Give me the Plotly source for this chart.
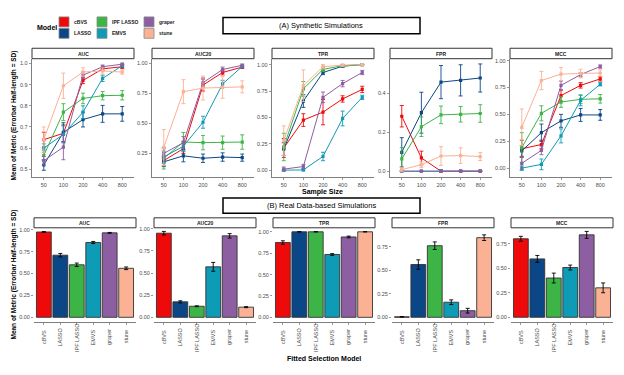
import plotly.graph_objects as go

W, H = 624, 375
FONT = "Liberation Sans, Arial, sans-serif"

models = ["cBVS", "LASSO", "IPF LASSO", "EMVS", "graper", "stune"]
colors = ["#EE0A0A", "#0B4786", "#3DB446", "#0E9BB5", "#8E5EA2", "#FBB194"]
sizes = ["50", "100", "200", "400", "800"]
metrics = ["AUC", "AUC20", "TPR", "FPR", "MCC"]

# ---- (A) Synthetic simulations: rows follow `models`, columns follow `sizes`
syn_auc_mean = [[0.64, 0.67, 0.92, 0.975, 0.985],
                [0.52, 0.675, 0.735, 0.762, 0.762],
                [0.565, 0.77, 0.835, 0.848, 0.85],
                [0.60, 0.665, 0.77, 0.93, 0.99],
                [0.54, 0.605, 0.945, 0.985, 0.997],
                [0.64, 0.895, 0.96, 0.965, 0.96]]
syn_auc_sd = [[0.035, 0.04, 0.015, 0.008, 0.008],
              [0.025, 0.045, 0.035, 0.04, 0.035],
              [0.025, 0.04, 0.025, 0.02, 0.022],
              [0.02, 0.04, 0.03, 0.015, 0.005],
              [0.02, 0.06, 0.015, 0.008, 0.004],
              [0.06, 0.06, 0.02, 0.015, 0.01]]

syn_auc20_mean = [[0.19, 0.29, 0.82, 0.925, 0.97],
                  [0.18, 0.23, 0.21, 0.22, 0.215],
                  [0.21, 0.345, 0.34, 0.34, 0.345],
                  [0.22, 0.31, 0.51, 0.83, 0.975],
                  [0.25, 0.34, 0.84, 0.95, 0.985],
                  [0.30, 0.765, 0.795, 0.80, 0.805]]
syn_auc20_sd = [[0.04, 0.04, 0.05, 0.02, 0.01],
                [0.04, 0.05, 0.035, 0.035, 0.03],
                [0.09, 0.08, 0.06, 0.055, 0.06],
                [0.05, 0.04, 0.05, 0.03, 0.01],
                [0.04, 0.05, 0.04, 0.02, 0.01],
                [0.15, 0.10, 0.10, 0.09, 0.05]]

syn_tpr_mean = [[0.21, 0.475, 0.55, 0.675, 0.765],
                [0.20, 0.655, 0.925, 0.985, 1.0],
                [0.22, 0.77, 0.955, 0.99, 1.0],
                [0.0, 0.003, 0.13, 0.49, 0.69],
                [0.01, 0.035, 0.69, 0.82, 0.925],
                [0.28, 0.80, 0.98, 0.995, 1.0]]
syn_tpr_sd = [[0.09, 0.06, 0.12, 0.03, 0.03],
              [0.06, 0.06, 0.02, 0.01, 0.002],
              [0.13, 0.07, 0.02, 0.01, 0.002],
              [0.003, 0.01, 0.04, 0.07, 0.02],
              [0.02, 0.02, 0.05, 0.03, 0.02],
              [0.14, 0.15, 0.02, 0.01, 0.002]]

syn_fpr_mean = [[0.282, 0.068, 0.0, 0.0, 0.0],
                [0.097, 0.30, 0.457, 0.466, 0.478],
                [0.063, 0.228, 0.289, 0.292, 0.296],
                [0.0, 0.0, 0.003, 0.001, 0.0],
                [0.0, 0.0, 0.0, 0.0, 0.0],
                [0.008, 0.033, 0.078, 0.08, 0.075]]
syn_fpr_sd = [[0.055, 0.035, 0.002, 0.001, 0.0],
              [0.075, 0.105, 0.085, 0.08, 0.072],
              [0.058, 0.05, 0.045, 0.04, 0.045],
              [0.001, 0.001, 0.005, 0.003, 0.001],
              [0.001, 0.001, 0.001, 0.001, 0.001],
              [0.01, 0.015, 0.048, 0.04, 0.02]]

syn_mcc_mean = [[0.18, 0.22, 0.675, 0.77, 0.83],
                [0.16, 0.33, 0.44, 0.495, 0.495],
                [0.19, 0.51, 0.615, 0.64, 0.645],
                [0.0, 0.035, 0.30, 0.63, 0.78],
                [0.045, 0.165, 0.77, 0.87, 0.945],
                [0.38, 0.815, 0.875, 0.88, 0.885]]
syn_mcc_sd = [[0.08, 0.04, 0.05, 0.025, 0.02],
              [0.05, 0.08, 0.06, 0.06, 0.05],
              [0.14, 0.07, 0.05, 0.04, 0.04],
              [0.02, 0.05, 0.065, 0.05, 0.015],
              [0.06, 0.04, 0.04, 0.02, 0.015],
              [0.17, 0.085, 0.06, 0.04, 0.03]]

# ---- (B) Real data-based simulations: values follow `models`
real_auc_mean = [0.975, 0.71, 0.60, 0.855, 0.965, 0.56]
real_auc_sd = [0.005, 0.02, 0.02, 0.012, 0.005, 0.015]
real_auc20_mean = [0.95, 0.175, 0.125, 0.57, 0.92, 0.115]
real_auc20_sd = [0.02, 0.012, 0.005, 0.05, 0.025, 0.006]
real_tpr_mean = [0.875, 1.0, 1.0, 0.735, 0.94, 1.0]
real_tpr_sd = [0.02, 0.001, 0.001, 0.01, 0.01, 0.001]
real_fpr_mean = [0.005, 0.56, 0.76, 0.16, 0.07, 0.845]
real_fpr_sd = [0.003, 0.05, 0.04, 0.025, 0.025, 0.03]
real_mcc_mean = [0.80, 0.595, 0.40, 0.507, 0.84, 0.30]
real_mcc_sd = [0.025, 0.035, 0.05, 0.025, 0.035, 0.05]

# tick labels
top_ticks = [[0.5, 0.6, 0.7, 0.8, 0.9, 1.0],
             [0.25, 0.50, 0.75, 1.00],
             [0.0, 0.25, 0.50, 0.75, 1.00],
             [0.0, 0.2, 0.4],
             [0.0, 0.25, 0.50, 0.75, 1.00]]
top_tick_text = [["0.5", "0.6", "0.7", "0.8", "0.9", "1.0"],
                 ["0.25", "0.50", "0.75", "1.00"],
                 ["0.00", "0.25", "0.50", "0.75", "1.00"],
                 ["0.0", "0.2", "0.4"],
                 ["0.00", "0.25", "0.50", "0.75", "1.00"]]
bot_ticks = [[0, 0.25, 0.5, 0.75, 1.0]] * 3 + [[0, 0.25, 0.5, 0.75]] * 2
bot_tick_text = [["0.00", "0.25", "0.50", "0.75", "1.00"]] * 3 + [["0.00", "0.25", "0.50", "0.75"]] * 2

syn_means = [syn_auc_mean, syn_auc20_mean, syn_tpr_mean, syn_fpr_mean, syn_mcc_mean]
syn_sds = [syn_auc_sd, syn_auc20_sd, syn_tpr_sd, syn_fpr_sd, syn_mcc_sd]
real_means = [real_auc_mean, real_auc20_mean, real_tpr_mean, real_fpr_mean, real_mcc_mean]
real_sds = [real_auc_sd, real_auc20_sd, real_tpr_sd, real_fpr_sd, real_mcc_sd]

# ---- layout geometry (pixels)
top_x0 = [32, 152, 272, 390, 510]
bot_x0 = [34, 154, 273, 392, 511]
PW = 102
TOP_Y = (57, 176)
BOT_Y = (227, 322)
top_ranges = [[0.463, 1.023], [0.053, 1.04], [-0.065, 1.056], [-0.03, 0.577], [-0.083, 1.018]]
bot_ranges = [[-0.057, 1.023], [-0.056, 1.011], [-0.058, 1.047], [-0.053, 0.95], [-0.051, 0.912]]


def fx(x):
    return x / W


def fy(y):
    return 1 - y / H


def ax_name(kind, k):
    return kind if k == 1 else f"{kind}{k}"


fig = go.Figure()
layout = {}
shapes = []
annotations = []

AXCOL = "#7F7F7F"
TICKFONT = dict(family=FONT, size=5.5, color="#4D4D4D")

# top row
for i in range(5):
    k = i + 1
    for j, m in enumerate(models):
        fig.add_trace(go.Scatter(
            x=sizes, y=syn_means[i][j],
            error_y=dict(type="data", array=syn_sds[i][j], color=colors[j], thickness=0.9, width=2),
            mode="lines+markers",
            line=dict(color=colors[j], width=1),
            marker=dict(symbol="square", size=3.2, color=colors[j]),
            xaxis=ax_name("x", k), yaxis=ax_name("y", k),
            showlegend=False, name=m))
    layout[ax_name("xaxis", k)] = dict(
        domain=[fx(top_x0[i]), fx(top_x0[i] + PW)], anchor=ax_name("y", k),
        type="category", categoryorder="array", categoryarray=sizes,
        range=[-0.6, 4.6], showline=True, linecolor=AXCOL, linewidth=1.2,
        ticks="outside", ticklen=2, tickcolor=AXCOL, tickwidth=0.8,
        showgrid=False, zeroline=False, tickfont=TICKFONT)
    layout[ax_name("yaxis", k)] = dict(
        domain=[fy(TOP_Y[1]), fy(TOP_Y[0])], anchor=ax_name("x", k),
        range=top_ranges[i], tickvals=top_ticks[i], ticktext=top_tick_text[i],
        showline=True, linecolor=AXCOL, linewidth=1.2,
        ticks="outside", ticklen=2, tickcolor=AXCOL, tickwidth=0.8,
        showgrid=False, zeroline=False, tickfont=TICKFONT)
    # strip
    shapes.append(dict(type="rect", xref="paper", yref="paper",
                       x0=fx(top_x0[i]), x1=fx(top_x0[i] + PW), y0=fy(57), y1=fy(46.5),
                       line=dict(color="#333333", width=1), fillcolor="white"))
    annotations.append(dict(text=f"<b>{metrics[i]}</b>", xref="paper", yref="paper",
                            x=fx(top_x0[i] + PW / 2), y=fy(51.8), showarrow=False,
                            xanchor="center", yanchor="middle",
                            font=dict(family=FONT, size=5, color="#1A1A1A")))

# bottom row
for i in range(5):
    k = i + 6
    fig.add_trace(go.Bar(
        x=models, y=real_means[i], width=0.9,
        marker=dict(color=colors, line=dict(color="#333333", width=0.9)),
        error_y=dict(type="data", array=real_sds[i], color="black", thickness=0.9, width=2),
        xaxis=ax_name("x", k), yaxis=ax_name("y", k), showlegend=False))
    layout[ax_name("xaxis", k)] = dict(
        domain=[fx(bot_x0[i]), fx(bot_x0[i] + PW)], anchor=ax_name("y", k),
        type="category", categoryorder="array", categoryarray=models,
        range=[-0.6, 5.6], showline=True, linecolor=AXCOL, linewidth=1.2,
        ticks="outside", ticklen=2, tickcolor=AXCOL, tickwidth=0.8,
        showticklabels=False, showgrid=False, zeroline=False)
    layout[ax_name("yaxis", k)] = dict(
        domain=[fy(BOT_Y[1]), fy(BOT_Y[0])], anchor=ax_name("x", k),
        range=bot_ranges[i], tickvals=bot_ticks[i], ticktext=bot_tick_text[i],
        showline=False, ticks="outside", ticklen=2, tickcolor=AXCOL, tickwidth=0.8,
        showgrid=False, zeroline=False, tickfont=TICKFONT)
    shapes.append(dict(type="rect", xref="paper", yref="paper",
                       x0=fx(bot_x0[i]), x1=fx(bot_x0[i] + PW), y0=fy(227), y1=fy(217),
                       line=dict(color="#333333", width=1), fillcolor="white"))
    annotations.append(dict(text=f"<b>{metrics[i]}</b>", xref="paper", yref="paper",
                            x=fx(bot_x0[i] + PW / 2), y=fy(222), showarrow=False,
                            xanchor="center", yanchor="middle",
                            font=dict(family=FONT, size=5, color="#1A1A1A")))
    for m in models:
        annotations.append(dict(text=m, xref=ax_name("x", k), yref="paper",
                                x=m, y=fy(337), textangle=-90, showarrow=False,
                                xanchor="center", yanchor="middle",
                                font=dict(family=FONT, size=5.5, color="#4D4D4D")))

# section title boxes
for (y0, y1, txt) in [(15.5, 32, "(A) Synthetic Simulations"), (197, 212.5, "(B) Real Data-based Simulations")]:
    shapes.append(dict(type="rect", xref="paper", yref="paper",
                       x0=fx(223), x1=fx(420), y0=fy(y1), y1=fy(y0),
                       line=dict(color="black", width=1.5), fillcolor="white"))
    annotations.append(dict(text=txt, xref="paper", yref="paper",
                            x=fx(321.5), y=fy((y0 + y1) / 2), showarrow=False,
                            xanchor="center", yanchor="middle",
                            font=dict(family=FONT, size=7.5, color="black")))

# axis titles
annotations.append(dict(text="<b>Sample Size</b>", xref="paper", yref="paper",
                        x=fx(322), y=fy(191), showarrow=False, xanchor="center", yanchor="middle",
                        font=dict(family=FONT, size=7, color="black")))
annotations.append(dict(text="<b>Fitted Selection Model</b>", xref="paper", yref="paper",
                        x=fx(324), y=fy(358), showarrow=False, xanchor="center", yanchor="middle",
                        font=dict(family=FONT, size=7, color="black")))
for yc in [114, 274]:
    annotations.append(dict(text="<b>Mean of Metric (Errorbar Half-length = SD)</b>",
                            xref="paper", yref="paper", x=fx(14), y=fy(yc), textangle=-90,
                            showarrow=False, xanchor="center", yanchor="middle",
                            font=dict(family=FONT, size=6.5, color="black")))

# legend (manual, 3 columns x 2 rows)
annotations.append(dict(text="<b>Model</b>", xref="paper", yref="paper", x=fx(35), y=fy(26),
                        showarrow=False, xanchor="left", yanchor="middle",
                        font=dict(family=FONT, size=7, color="black")))
col_x = [59, 97, 144]
row_y = [15, 26.5]
for j, m in enumerate(models):
    c, r = j // 2, j % 2
    x0, y0 = col_x[c], row_y[r]
    shapes.append(dict(type="rect", xref="paper", yref="paper",
                       x0=fx(x0), x1=fx(x0 + 10), y0=fy(y0 + 10), y1=fy(y0),
                       line=dict(color="#8C8C8C", width=0.8), fillcolor=colors[j]))
    annotations.append(dict(text=f"<b>{m}</b>", xref="paper", yref="paper",
                            x=fx(x0 + 13), y=fy(y0 + 5), showarrow=False,
                            xanchor="left", yanchor="middle",
                            font=dict(family=FONT, size=5, color="#1A1A1A")))

fig.update_layout(
    width=W, height=H, margin=dict(l=0, r=0, t=0, b=0),
    paper_bgcolor="white", plot_bgcolor="white",
    font=dict(family=FONT), showlegend=False, bargap=0.1, hovermode=False,
    shapes=shapes, annotations=annotations, **layout)

fig.write_html("out.html", config={"displayModeBar": False, "staticPlot": True},
               post_script="document.body.style.margin='0';document.body.style.overflow='hidden';")
